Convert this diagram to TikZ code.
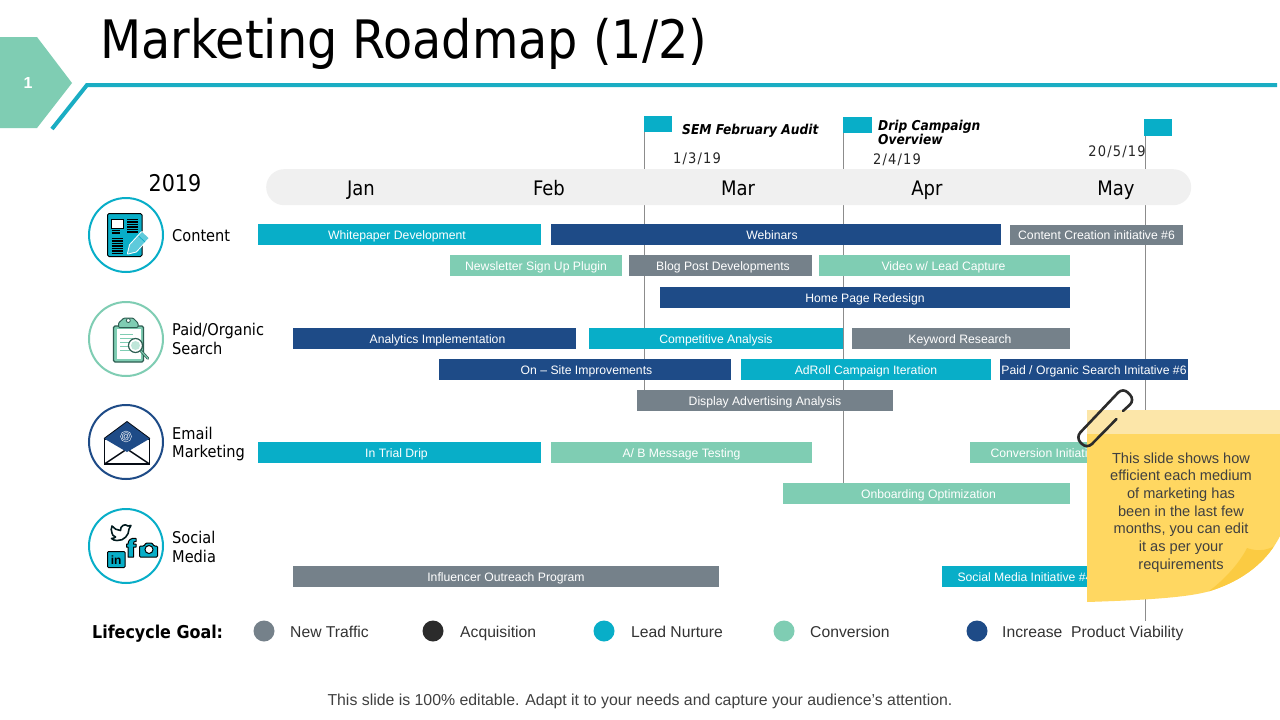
\documentclass[tikz,border=0pt]{standalone}
\usepackage{fontspec}
\setmainfont{Liberation Sans}
\newfontfamily\tah{DejaVu Sans Condensed}
\usetikzlibrary{calc}
\definecolor{tealc}{HTML}{08AEC8}
\definecolor{navyc}{HTML}{1E4B87}
\definecolor{grayc}{HTML}{75818A}
\definecolor{greenc}{HTML}{7FCDB3}
\definecolor{darkc}{HTML}{2B2B2B}
\definecolor{linec}{HTML}{1AADC3}
\definecolor{pillc}{HTML}{F0F0F0}
\definecolor{stemc}{HTML}{8C8C8C}
\definecolor{notec}{HTML}{FFD761}
\definecolor{notelt}{HTML}{FCE6A9}
\definecolor{foldc}{HTML}{FBCB42}
\definecolor{notetxt}{HTML}{404040}
\definecolor{clipdk}{HTML}{2E5E52}
\tikzset{
 x=1pt,y=-1pt,
 barbox/.style={inner sep=0pt,outer sep=0pt,text=white,font=\fontsize{12.2}{14}\selectfont,anchor=north west,text height=10.5pt,text depth=1.5pt},
 flagbox/.style={fill=tealc,inner sep=0pt,outer sep=0pt,anchor=north west},
 stem/.style={stemc,line width=1pt},
 monthlab/.style={font=\tah\fontsize{20}{22}\selectfont,text=black,anchor=base},
 sidelab/.style={font=\tah\fontsize{16.2}{18.6}\selectfont,anchor=west,align=left,text=black,inner sep=0pt},
 datelab/.style={font=\tah\fontsize{14.5}{15}\selectfont\addfontfeature{LetterSpace=8},text=black!85},
 flaglab/.style={font=\tah\bfseries\itshape\fontsize{13.6}{14}\selectfont,anchor=west,align=left,inner sep=0pt},
 iconring/.style={draw,line width=2pt,circle,minimum size=74pt,inner sep=0pt,fill=white},
 legdot/.style={circle,minimum size=21pt,inner sep=0pt},
 leglab/.style={font=\fontsize{15.7}{18}\selectfont,anchor=base west,text=black!80,inner sep=0pt},
}
\newcommand{\gbar}[7]{%
 \node[barbox,fill=#6,minimum width=#3pt-#2pt,minimum height=#5pt-#4pt] (#1) at (#2,#4) {#7};}
\begin{document}
\begin{tikzpicture}
\useasboundingbox (0,0) rectangle (1280,720);
\fill[white] (0,0) rectangle (1280,720);
% header
\node[font=\tah\fontsize{53}{56}\selectfont,anchor=base west,inner sep=0pt] (title) at (100,58) {Marketing Roadmap (1/2)};
\node[inner sep=0pt,minimum size=0pt] (badge) at (0,37) {};
\fill[greenc] (0,37) -- (37,37) -- (72,83) -- (37,128) -- (0,128) -- cycle;
\node[text=white,font=\bfseries\fontsize{16}{18}\selectfont,inner sep=0pt] (num) at (28,83) {1};
\draw[linec,line width=4pt] (52,129) -- (87,85) -- (1277,85);
% stems
\node[flagbox,minimum width=28pt,minimum height=16pt] (f1) at (644,116) {};
\node[flagbox,minimum width=29pt,minimum height=16pt] (f2) at (843,117) {};
\node[flagbox,minimum width=28pt,minimum height=17pt] (f3) at (1144,119) {};
\coordinate (e1) at (644.5,392);
\coordinate (e2) at (843.5,485);
\coordinate (e3) at (1145,621);
\draw[stem] (f1.north west) ++(0.5,0) -- (e1);
\draw[stem] (f2.north west) ++(0.5,0) -- (e2);
\draw[stem] (f3.north west) ++(1,0) -- (e3);
\fill[tealc] (f1.north west) rectangle (f1.south east);
\fill[tealc] (f2.north west) rectangle (f2.south east);
\fill[tealc] (f3.north west) rectangle (f3.south east);
% pill
\node[fill=pillc,rounded corners=18pt,minimum width=925pt,minimum height=36pt,inner sep=0pt,anchor=north west] (pill) at (266,169) {};
\node[monthlab] (jan) at (361,195) {Jan};
\node[monthlab] (feb) at (549,195) {Feb};
\node[monthlab] (mar) at (738,195) {Mar};
\node[monthlab] (apr) at (927,195) {Apr};
\node[monthlab] (may) at (1116,195) {May};
\node[font=\tah\fontsize{23}{24}\selectfont,anchor=base] (year) at (175,191) {2019};
\node[flaglab] (t1) at (682,130.5) {SEM February Audit};
\node[flaglab] (t2) at (878,132) {Drip Campaign\\Overview};
\node[datelab] (d1) at (697,159) {1/3/19};
\node[datelab] (d2) at (897,160) {2/4/19};
\node[datelab] (d3) at (1117,152) {20/5/19};
% bars
\gbar{b1}{258}{541}{224}{245}{tealc}{\hspace*{-5pt}Whitepaper Development}
\gbar{b2}{551}{1001}{224}{245}{navyc}{\hspace*{-8pt}Webinars}
\gbar{b3}{1010}{1183}{225}{245}{grayc}{Content Creation initiative \#6}
\gbar{b4}{450}{622}{255}{276}{greenc}{Newsletter Sign Up Plugin}
\gbar{b5}{629}{812}{255}{276}{grayc}{\hspace*{5pt}Blog Post Developments}
\gbar{b6}{819}{1070}{255}{276}{greenc}{\hspace*{-2pt}Video w/ Lead Capture}
\gbar{b7}{660}{1070}{287}{308}{navyc}{Home Page Redesign}
\gbar{b8}{293}{576}{328}{349}{navyc}{\hspace*{6pt}Analytics Implementation}
\gbar{b9}{589}{843}{328}{349}{tealc}{Competitive Analysis}
\gbar{b10}{852}{1070}{328}{349}{grayc}{\hspace*{-2pt}Keyword Research}
\gbar{b11}{439}{731}{359}{380}{navyc}{\hspace*{3pt}On – Site Improvements}
\gbar{b12}{741}{991}{359}{380}{tealc}{AdRoll Campaign Iteration}
\gbar{b13}{1000}{1188}{359}{380}{navyc}{Paid / Organic Search Imitative \#6}
\gbar{b14}{637}{893}{390}{411}{grayc}{Display Advertising Analysis}
\gbar{b15}{258}{541}{442}{463}{tealc}{\hspace*{-6pt}In Trial Drip}
\gbar{b16}{551}{812}{442}{463}{greenc}{A/ B Message Testing}
\gbar{b17}{970}{1138}{442}{463}{greenc}{Conversion Initiative \#5}
\gbar{b18}{783}{1070}{483}{504}{greenc}{\hspace*{4pt}Onboarding Optimization}
\gbar{b19}{293}{719}{566}{587}{grayc}{Influencer Outreach Program}
\gbar{b20}{942}{1108}{566}{587}{tealc}{Social Media Initiative \#4}
% side rings
\node[iconring,draw=tealc] (r1) at (126,235) {};
\node[iconring,draw=greenc] (r2) at (126,339) {};
\node[iconring,draw=navyc] (r3) at (126,442) {};
\node[iconring,draw=tealc] (r4) at (126,546) {};
\node[sidelab] (s1) at (172,235.5) {Content};
\node[sidelab] (s2) at (172,339) {Paid/Organic\\Search};
\node[sidelab] (s3) at (172,444) {Email\\Marketing};
\node[sidelab] (s4) at (172,547) {Social\\Media};
% icon: document
\draw[black,line width=1pt,fill=tealc,rounded corners=1.5pt] (107.5,213.5) rectangle (142,256.5);
\fill[white] (111.5,219) rectangle (123,228);
\draw[black,line width=.8pt] (111.5,219) rectangle (123,228);
\foreach \y in {230.5,233}{\draw[black,line width=1.3pt] (111.5,\y) -- (120,\y);}
\foreach \y in {219.5,222,224.5,227,229.5,232}{\draw[black,line width=1.3pt] (127,\y) -- (138,\y);}
\foreach \y in {238.5,241,243.5,246,248.5,251,253.5}{\draw[black,line width=1.3pt] (111.5,\y) -- (123,\y);}
\draw[white,line width=2pt,line join=round] (128,253.5) -- (130,245) -- (142,232) -- (148.5,238) -- (136,251.5) -- cycle;
\fill[tealc!65!white] (128,253.5) -- (130,245) -- (142,232) -- (148.5,238) -- (136,251.5) -- cycle;
\draw[tealc,line width=.7pt] (138.5,236) -- (145,242);
% icon: clipboard
\draw[clipdk,line width=1.3pt,fill=greenc,rounded corners=1.5pt] (113.5,326) rectangle (143.5,362);
\fill[white] (116.5,329) rectangle (141,358.5);
\draw[clipdk,line width=1pt,fill=greenc,rounded corners=1pt] (118.5,327.5) -- (118.5,323) -- (124,318) -- (133,318) -- (138,323) -- (138,327.5) -- cycle;
\draw[clipdk,line width=.8pt,fill=white] (128.3,320.5) circle (2pt);
\foreach \y in {334,338,342,346,350}{\draw[greenc,line width=.7pt] (120,\y) -- (133,\y);}
\draw[clipdk,line width=1.2pt,fill=white] (135.5,345.5) circle (7pt);
\fill[greenc!50!white] (135.5,345.5) circle (4.5pt);
\draw[clipdk,line width=2.6pt,line cap=round] (141,351) -- (148,358.5);
\draw[greenc,line width=1.1pt,line cap=round] (141,351) -- (148,358.5);
% icon: envelope
\draw[black!85!navyc,line width=1.5pt,fill=white] (104.5,439) rectangle (149.5,464);
\draw[black!85!navyc,line width=1.5pt] (104.5,464) -- (127,449) -- (149.5,464);
\fill[navyc] (104,438.5) -- (127,421.5) -- (150,438.5) -- (127,452) -- cycle;
\draw[black!85!navyc,line width=.8pt,line join=round] (104,438.5) -- (127,421.5) -- (150,438.5);
\node[text=white,font=\fontsize{9}{10}\selectfont,inner sep=0pt] (at) at (126,436.5) {@};
\draw[white,line width=.4pt] (126,436.5) circle (5.5pt);
% icon: social
\draw[black!85!tealc,line width=1.6pt,fill=white,line join=round] (112,526) .. controls (114,529) and (117,530) .. (120.5,530.5) .. controls (120,526) and (125,523) .. (128,526) .. controls (129.5,526) and (130,526) .. (131,525.5) .. controls (130.5,527) and (130,528) .. (129,529) .. controls (129,535) and (124,541) .. (117,540.5) .. controls (115,540.5) and (113,540) .. (111.5,538.5) .. controls (113,538.5) and (114.5,538) .. (115.5,537) .. controls (113,536) and (112,534.5) .. (112,533) .. controls (111,531) and (111,528) .. (112,526) -- cycle;
\draw[black,line width=1pt,fill=tealc,rounded corners=1pt] (107.5,551.5) rectangle (125,567.5);
\node[text=black,font=\bfseries\fontsize{12}{12}\selectfont,inner sep=0pt] (in) at (116.2,560.5) {in};
\draw[black,line width=1pt,fill=tealc,line join=round] (128,557) -- (128,547) -- (126.5,547) -- (126.5,544) -- (128,544) .. controls (128,540) and (131,537.5) .. (136,538.5) -- (136,541.5) .. controls (134,541) and (133.5,542) .. (133.5,544) -- (136,544) -- (136,547) -- (133.5,547) -- (133.5,557) -- cycle;
\draw[black,line width=1pt,fill=tealc,rounded corners=1pt] (139.5,546) -- (144,546) -- (146,543) -- (152,543) -- (154,546) -- (157.5,546) -- (157.5,557) -- (139.5,557) -- cycle;
\draw[black,line width=1pt,fill=white] (149,549.5) circle (4pt);
% legend
\node[font=\tah\bfseries\fontsize{17.7}{18}\selectfont,anchor=base west,inner sep=0pt] (lg) at (92,638) {Lifecycle Goal:};
\node[legdot,fill=grayc] (l1) at (264,631) {};
\node[legdot,fill=darkc] (l2) at (433,631) {};
\node[legdot,fill=tealc] (l3) at (604,631) {};
\node[legdot,fill=greenc] (l4) at (784,631) {};
\node[legdot,fill=navyc] (l5) at (977,631) {};
\node[leglab] (lt1) at (290,637.3) {New Traffic};
\node[leglab] (lt2) at (460,637.3) {Acquisition};
\node[leglab] (lt3) at (631,637.3) {Lead Nurture};
\node[leglab] (lt4) at (810,637.3) {Conversion};
\node[leglab] (lt5) at (1002,637.3) {Increase\ \ Product Viability};
\node[font=\fontsize{15.85}{18}\selectfont,text=black!75,anchor=base] (foot) at (640,705.3) {This slide is 100\% editable. Adapt it to your needs and capture your audience's attention.};
% sticky note
\begin{scope}
\path[clip] (1087,410) -- (1280,410) -- (1280,536) .. controls (1268,560) and (1245,580) .. (1210,591) .. controls (1190,597) and (1150,600) .. (1087,602) -- cycle;
\fill[notec] (1080,405) rectangle (1285,610);
\fill[notelt] (1087,410) rectangle (1280,434);
\fill[foldc] (1205,594) .. controls (1225,580) and (1240,562) .. (1247,548) .. controls (1258,552) and (1270,551) .. (1282,541) -- (1282,600) -- cycle;
\end{scope}
\node[text=notetxt,font=\fontsize{14.6}{17.7}\selectfont,align=center,inner sep=0pt] (note) at (1181,512.5) {This slide shows how\\efficient each medium\\of marketing has\\been in the last few\\months, you can edit\\it as per your\\requirements};
% paperclip
\draw[darkc,line width=2.6pt,line cap=round,rounded corners=7pt] (1116.5,419) -- (1087,449) -- (1075.5,437.5) -- (1123,387.5) -- (1135,400) -- (1123,411);
\end{tikzpicture}
\end{document}
